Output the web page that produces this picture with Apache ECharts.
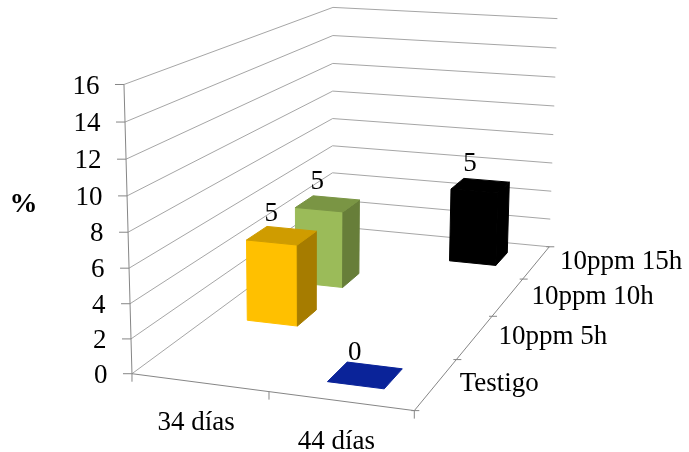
<!DOCTYPE html>
<html>
<head>
<meta charset="utf-8">
<script src="https://cdn.jsdelivr.net/npm/echarts@6/dist/echarts.min.js"></script>
<style>
  html, body { margin: 0; padding: 0; background: #ffffff; }
  #chart { width: 689px; height: 452px; }
</style>
</head>
<body>
<div id="chart"></div>
<script>
// ---- data ----
const categories = ['34 días', '44 días'];
const seriesNames = ['Testigo', '10ppm 5h', '10ppm 10h', '10ppm 15h'];
const testigo = [null, 0];
const ppm5h = [5, null];
const ppm10h = [5, null];
const ppm15h = [null, 5];
const yTicks = [0, 2, 4, 6, 8, 10, 12, 14, 16];
const valueAxisTitle = '%';

const seriesValues = [testigo, ppm5h, ppm10h, ppm15h];
const Y_MAX = 16;

// face colours per series: [front, top, side]
const faceColors = [
  ['#0a2399', '#0a2399', '#081c7a'],
  ['#ffc000', '#cf9c00', '#a67c00'],
  ['#9bbb59', '#7a9544', '#677e39'],
  ['#000000', '#000000', '#000000']
];

const FONT = '27px "Liberation Serif", "Times New Roman", serif';
const GRID_COLOR = '#a6a6a6';
const AXIS_COLOR = '#868686';

// Screen positions of the plot box (walls and floor) used to fit the
// perspective camera: [x fraction, value fraction, depth fraction, px, py]
const BOX = [
  [0, 0, 0, 132.5, 373.3], [0, 2 / 16, 0, 131.4, 338.3], [0, 4 / 16, 0, 130.3, 303.3],
  [0, 6 / 16, 0, 129.2, 268.3], [0, 8 / 16, 0, 128.1, 232.7], [0, 10 / 16, 0, 127, 196.7],
  [0, 12 / 16, 0, 125.8, 159], [0, 14 / 16, 0, 124.6, 121.7], [0, 1, 0, 123.5, 85],
  [1, 0, 1, 550, 246], [1, 2 / 16, 1, 550.5, 219], [1, 4 / 16, 1, 551, 192],
  [1, 6 / 16, 1, 552, 163], [1, 8 / 16, 1, 553, 135], [1, 10 / 16, 1, 554, 107],
  [1, 12 / 16, 1, 555, 77], [1, 14 / 16, 1, 556, 48], [1, 1, 1, 557, 18],
  [0, 0, 1, 331, 227.5], [0, 4 / 16, 1, 332, 172.3], [0, 1, 1, 335, 6.7],
  [1, 0, 0, 414, 411.5], [0.5, 0, 0, 268, 391.5],
  [1, 0, 0.25, 457, 359.3], [1, 0, 0.5, 492.5, 316], [1, 0, 0.75, 523.5, 278.3]
];

// Least-squares fit of a 3x4 projection matrix (last entry fixed to 1)
function fitCamera(pts) {
  const n = 11;
  const N = Array.from({ length: n }, () => new Array(n).fill(0));
  const r = new Array(n).fill(0);
  const add = (row, b) => {
    for (let i = 0; i < n; i++) {
      r[i] += row[i] * b;
      for (let j = 0; j < n; j++) N[i][j] += row[i] * row[j];
    }
  };
  pts.forEach(([X, Y, Z, u, v]) => {
    add([X, Y, Z, 1, 0, 0, 0, 0, -u * X, -u * Y, -u * Z], u);
    add([0, 0, 0, 0, X, Y, Z, 1, -v * X, -v * Y, -v * Z], v);
  });
  for (let c = 0; c < n; c++) {
    let piv = c;
    for (let k = c + 1; k < n; k++) if (Math.abs(N[k][c]) > Math.abs(N[piv][c])) piv = k;
    [N[c], N[piv]] = [N[piv], N[c]];
    [r[c], r[piv]] = [r[piv], r[c]];
    for (let k = c + 1; k < n; k++) {
      const f = N[k][c] / N[c][c];
      for (let j = c; j < n; j++) N[k][j] -= f * N[c][j];
      r[k] -= f * r[c];
    }
  }
  const p = new Array(n).fill(0);
  for (let c = n - 1; c >= 0; c--) {
    let s = r[c];
    for (let j = c + 1; j < n; j++) s -= N[c][j] * p[j];
    p[c] = s / N[c][c];
  }
  return p;
}
const P = fitCamera(BOX);

function project(X, Y, Z) {
  const w = P[8] * X + P[9] * Y + P[10] * Z + 1;
  return [(P[0] * X + P[1] * Y + P[2] * Z + P[3]) / w, (P[4] * X + P[5] * Y + P[6] * Z + P[7]) / w];
}

// camera centre in box coordinates (used for face culling)
const CAM = (function () {
  const M = [[P[0], P[1], P[2]], [P[4], P[5], P[6]], [P[8], P[9], P[10]]];
  const b = [-P[3], -P[7], -1];
  const det = m => m[0][0] * (m[1][1] * m[2][2] - m[1][2] * m[2][1])
    - m[0][1] * (m[1][0] * m[2][2] - m[1][2] * m[2][0])
    + m[0][2] * (m[1][0] * m[2][1] - m[1][1] * m[2][0]);
  const D = det(M);
  return [0, 1, 2].map(c => det(M.map((row, i) => row.map((v, j) => (j === c ? b[i] : v)))) / D);
})();

// helpers turning grid pixels back into box fractions
function fracX(cs, px) { return (px - cs.x) / cs.width; }
function fracY(cs, py) { return (cs.y + cs.height - py) / cs.height; }

function textEl(text, x, y, align, extra) {
  return {
    type: 'text',
    style: Object.assign({
      text: text, x: x, y: y, font: FONT, fill: '#000000',
      align: align, verticalAlign: 'middle',
      textAlign: align, textVerticalAlign: 'middle'
    }, extra || {})
  };
}
function lineEl(a, b, color) {
  return {
    type: 'line',
    shape: { x1: a[0], y1: a[1], x2: b[0], y2: b[1] },
    style: { stroke: color, lineWidth: 1 }
  };
}

// walls: gridlines on left and back wall, value ticks and labels
function renderWalls(params, api) {
  const cs = params.coordSys;
  const v = api.value(1);
  const Y = fracY(cs, api.coord([0, v])[1]);
  const fl = project(0, Y, 0), bl = project(0, Y, 1), br = project(1, Y, 1);
  return {
    type: 'group',
    children: [
      lineEl(fl, bl, GRID_COLOR),
      lineEl(bl, br, GRID_COLOR),
      lineEl([fl[0] - 9, fl[1]], fl, AXIS_COLOR),
      textEl(String(v), fl[0] - 24.5, fl[1] + 2, 'right')
    ]
  };
}

// the three axis lines of the box
function renderAxes(params, api) {
  const cs = params.coordSys;
  const top = fracY(cs, api.coord([0, Y_MAX])[1]);
  return {
    type: 'group',
    children: [
      lineEl(project(0, 0, 0), project(0, top, 0), AXIS_COLOR),
      lineEl(project(0, 0, 0), project(1, 0, 0), AXIS_COLOR),
      lineEl(project(1, 0, 0), project(1, 0, 1), AXIS_COLOR),
      textEl(valueAxisTitle, 23.5, 205, 'center', {
        font: 'bold 28px "Liberation Serif", "Times New Roman", serif'
      })
    ]
  };
}

// category axis along the front edge
function renderCategories(params, api) {
  const cs = params.coordSys;
  const i = api.value(0);
  const X = fracX(cs, api.coord([i, 0])[0]);
  const half = api.size([1, 0])[0] / cs.width / 2;
  const c = project(X, -2.3 / Y_MAX, 0);
  const children = [];
  const edges = i === categories.length - 1 ? [X - half, X + half] : [X - half];
  edges.forEach(e => {
    const p = project(e, 0, 0);
    children.push(lineEl(p, [p[0], p[1] + 8], AXIS_COLOR));
  });
  children.push(textEl(categories[i], c[0] - 4, c[1], 'center'));
  return { type: 'group', children: children };
}

// series (depth) axis along the right floor edge
function renderDepth(params, api) {
  const cs = params.coordSys;
  const j = api.value(0);
  const Z = fracX(cs, api.coord([j, 0])[0]);
  const half = api.size([1, 0])[0] / cs.width / 2;
  const c = project(1, 0, Z);
  const children = [];
  const edges = j === seriesNames.length - 1 ? [Z - half, Z + half] : [Z - half];
  edges.forEach(e => {
    const p = project(1, 0, e);
    children.push(lineEl([p[0] - 3, p[1]], [p[0] + 5, p[1]], AXIS_COLOR));
  });
  children.push(textEl(seriesNames[j], c[0] + 23.5, c[1], 'left'));
  return { type: 'group', children: children };
}

// 3D columns: one box per value, only faces turned to the camera are drawn
function makeBarRenderer(depthIndex) {
  const nD = seriesNames.length;
  const Z = (depthIndex + 0.5) / nD;
  const hd = (1 / nD) * 0.4 / 2;
  const colors = faceColors[depthIndex];
  return function (params, api) {
    const cs = params.coordSys;
    const i = api.value(0), v = api.value(1);
    const pt = api.coord([i, v]);
    const X = fracX(cs, pt[0]);
    const Y = fracY(cs, pt[1]);
    const hw = api.size([1, 0])[0] / cs.width * 0.4 / 2;
    const x0 = X - hw, x1 = X + hw, z0 = Z - hd, z1 = Z + hd, y0 = 0, y1 = Y;
    const faces = [];
    const poly = (pts, fill) => ({
      type: 'polygon',
      shape: { points: pts.map(q => project(q[0], q[1], q[2])) },
      style: { fill: fill, stroke: fill, lineWidth: 1, lineJoin: 'round' }
    });
    if (CAM[2] < z0 && y1 > y0) faces.push(poly([[x0, y0, z0], [x1, y0, z0], [x1, y1, z0], [x0, y1, z0]], colors[0]));
    if (CAM[0] > x1 && y1 > y0) faces.push(poly([[x1, y0, z0], [x1, y0, z1], [x1, y1, z1], [x1, y1, z0]], colors[2]));
    if (CAM[0] < x0 && y1 > y0) faces.push(poly([[x0, y0, z0], [x0, y0, z1], [x0, y1, z1], [x0, y1, z0]], colors[2]));
    if (CAM[1] > y1) faces.push(poly([[x0, y1, z0], [x1, y1, z0], [x1, y1, z1], [x0, y1, z1]], colors[1]));
    const top = project(X, y1, Z);
    faces.push(textEl(String(v), top[0] - 10.5, top[1] - 22, 'center'));
    return { type: 'group', children: faces };
  };
}

const option = {
  animation: false,
  backgroundColor: '#ffffff',
  grid: { left: 0, right: 0, top: 0, bottom: 0, show: false },
  xAxis: [
    { type: 'category', data: categories, show: false },
    { type: 'category', data: seriesNames, show: false }
  ],
  yAxis: { type: 'value', min: 0, max: Y_MAX, interval: 2, show: false },
  series: [
    {
      type: 'custom', name: 'walls', silent: true, clip: false,
      data: yTicks.map(v => [0, v]), renderItem: renderWalls
    },
    {
      type: 'custom', name: 'axes', silent: true, clip: false,
      data: [[0, 0]], renderItem: renderAxes
    },
    {
      type: 'custom', name: 'categories', silent: true, clip: false,
      data: categories.map((c, i) => [i, 0]), renderItem: renderCategories
    },
    {
      type: 'custom', name: 'depth', silent: true, clip: false, xAxisIndex: 1,
      data: seriesNames.map((n, j) => [j, 0]), renderItem: renderDepth
    }
  ]
};

// back rows first so nearer columns are painted over farther ones
for (let j = seriesNames.length - 1; j >= 0; j--) {
  option.series.push({
    type: 'custom', name: seriesNames[j], silent: true, clip: false,
    data: seriesValues[j].map((v, i) => [i, v]).filter(d => d[1] !== null),
    renderItem: makeBarRenderer(j)
  });
}

const chart = echarts.init(document.getElementById('chart'));
chart.setOption(option);
</script>
</body>
</html>
